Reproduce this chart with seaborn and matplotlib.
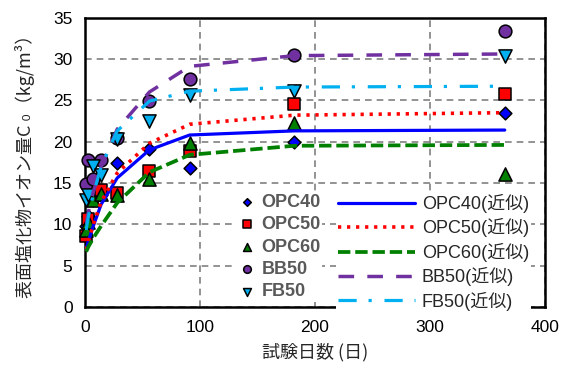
import matplotlib
matplotlib.use("Agg")
import matplotlib.pyplot as plt
from matplotlib.ticker import MultipleLocator
import seaborn as sns

# Immersion age (days) and measured surface chloride content C0 (kg/m3)
days = [1, 3, 7, 14, 28, 56, 91, 182, 365]
opc40 = [9.8, 11.0, 13.0, 13.5, 17.4, 19.1, 16.8, 20.0, 23.5]
opc50 = [8.6, 10.6, 14.0, 14.2, 13.8, 16.5, 18.9, 24.6, 25.8]
opc60 = [9.3, 10.3, 13.0, 13.7, 13.6, 15.5, 19.8, 22.2, 16.1]
bb50 = [14.9, 17.8, 15.5, 17.8, 20.4, 24.9, 27.6, 30.5, 33.4]
fb50 = [12.9, 13.5, 17.0, 16.0, 20.3, 22.5, 25.6, 26.1, 30.3]

# Approximation curves evaluated at the same ages
opc40_fit = [7.0, 8.0, 9.7, 12.4, 15.6, 19.0, 20.8, 21.3, 21.4]
opc50_fit = [6.9, 8.0, 9.9, 12.7, 16.2, 19.8, 22.1, 23.2, 23.5]
opc60_fit = [6.7, 7.3, 8.3, 9.8, 12.6, 16.3, 18.4, 19.5, 19.6]
bb50_fit = [10.0, 11.5, 13.8, 17.0, 21.5, 26.0, 29.1, 30.4, 30.6]
fb50_fit = [9.3, 11.0, 13.5, 17.0, 21.3, 24.9, 26.1, 26.6, 26.7]

names = ["OPC40", "OPC50", "OPC60", "BB50", "FB50"]
fit_names = ["OPC40(近似)", "OPC50(近似)", "OPC60(近似)", "BB50(近似)", "FB50(近似)"]
colors = ["#0000FF", "#FF0000", "#008000", "#7030A0", "#00B0F0"]
markers = ["D", "s", "^", "o", "v"]
sizes = [42, 84, 90, 84, 90]
line_styles = [
    "-",
    (0, (0.9, 1.6)),
    (0, (3.3, 1.3)),
    (0, (4.5, 3.8)),
    (0, (5.7, 3.7, 1.0, 4.0)),
]
line_widths = [2.3, 2.6, 2.7, 2.5, 2.3]

sns.set_style("white")
plt.rcParams["font.family"] = ["Liberation Sans", "Noto Sans CJK JP", "DejaVu Sans"]

fig = plt.figure(figsize=(5.66, 3.65), dpi=100)
ax = fig.add_axes([85 / 566, 58 / 365, 460 / 566, 289.4 / 365])

measured = [opc40, opc50, opc60, bb50, fb50]
fitted = [opc40_fit, opc50_fit, opc60_fit, bb50_fit, fb50_fit]

for vals, name, c, m, s in zip(measured, names, colors, markers, sizes):
    sns.scatterplot(x=days, y=vals, marker=m, color=c, s=s, edgecolor="black",
                    linewidth=1.1, label=name, ax=ax, clip_on=False, zorder=3,
                    legend=False)

for vals, name, c, ls, lw in zip(fitted, fit_names, colors, line_styles, line_widths):
    sns.lineplot(x=days, y=vals, color=c, linestyle=ls, linewidth=lw,
                 label=name, ax=ax, zorder=4, legend=False)

ax.set_xlim(0, 400)
ax.set_ylim(0, 35)
ax.xaxis.set_major_locator(MultipleLocator(100))
ax.xaxis.set_minor_locator(MultipleLocator(50))
ax.yaxis.set_major_locator(MultipleLocator(5))
ax.grid(True, which="major", color="#808080", linestyle=(0, (4, 3)), linewidth=1.2)
ax.set_axisbelow(True)
ax.tick_params(axis="both", which="both", direction="in", length=5, width=1,
               labelsize=12.5, pad=9, colors="black")
for sp in ax.spines.values():
    sp.set_color("black")
    sp.set_linewidth(1.8)

ax.set_xlabel("試験日数 (日)", fontsize=13,
              family=["Noto Sans CJK JP", "DejaVu Sans"])
ax.set_ylabel("表面塩化物イオン量C ₀（kg/m³）", fontsize=13,
              family=["Noto Sans CJK JP", "DejaVu Sans"])
ax.xaxis.set_label_coords(0.5, -0.125)
ax.yaxis.set_label_coords(-0.108, 0.5)

handles, labels = ax.get_legend_handles_labels()
lookup = dict(zip(labels, handles))

leg1 = ax.legend([lookup[n] for n in names], names, loc="upper left",
                 bbox_to_anchor=(236 / 566, 1 - 192 / 365),
                 bbox_transform=fig.transFigure, frameon=True,
                 facecolor="white", edgecolor="none", framealpha=1,
                 borderpad=0.1, borderaxespad=0, handlelength=1.0,
                 handletextpad=0.3, labelspacing=0.3, markerscale=0.6,
                 scatterpoints=1, prop={"size": 13, "weight": "bold"})
for t in leg1.get_texts():
    t.set_color("#595959")
ax.add_artist(leg1)

leg2 = ax.legend([lookup[n] for n in fit_names], fit_names, loc="upper left",
                 bbox_to_anchor=(336 / 566, 1 - 192 / 365),
                 bbox_transform=fig.transFigure, frameon=True,
                 facecolor="white", edgecolor="none", framealpha=1,
                 borderpad=0.1, borderaxespad=0, handlelength=4.3,
                 handletextpad=0.35, labelspacing=0.3, prop={"size": 13})

fig.savefig("out.png", dpi=100)
